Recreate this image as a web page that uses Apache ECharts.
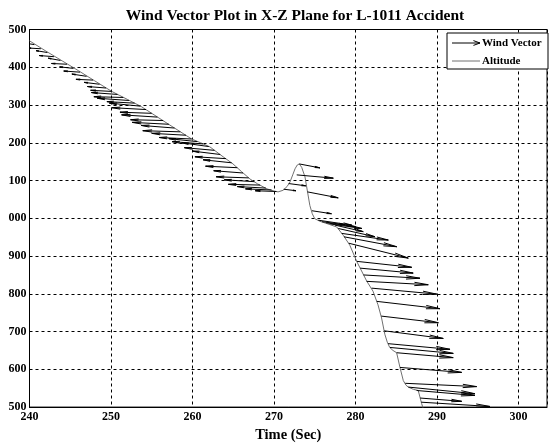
<!DOCTYPE html>
<html>
<head>
<meta charset="utf-8">
<script src="https://cdn.jsdelivr.net/npm/echarts@6/dist/echarts.min.js"></script>
<style>
  html, body { margin: 0; padding: 0; background: #fff; }
  #chart { width: 549px; height: 448px; }
</style>
</head>
<body>
<div id="chart"></div>
<script>
// Altitude trace (time in seconds, altitude in feet)
const altTime = [240, 242, 244, 246, 248, 250.1, 251, 252, 253.7, 255, 257, 259.9, 261, 262.15, 263.5,
  264.97, 266, 267.06, 268, 269.14, 270, 270.5, 271.1, 271.6, 271.96, 272.3, 272.58, 272.85, 273.1,
  273.4, 273.8, 274.1, 274.4, 274.7, 275.0, 275.64, 276.5, 277.7, 278.5, 279.3, 280.15, 281.37,
  282.15, 282.76, 283.2, 283.6, 283.9, 284.2, 284.6, 285.05, 285.46, 285.87, 286.2, 286.48, 287.1,
  287.7, 288.12, 288.4];
const altFeet = [1470, 1443, 1417, 1391, 1364, 1336, 1326, 1315, 1296, 1278, 1250, 1210, 1200, 1189, 1167,
  1144, 1124, 1104, 1091, 1078, 1072, 1070, 1074, 1084, 1096, 1115, 1131, 1141, 1144,
  1135, 1110, 1072, 1034, 1012, 999, 992, 986, 977, 955, 929, 886, 834,
  807, 771, 736, 693, 672, 658, 650, 644, 605, 570, 558, 553, 547,
  544, 509, 490];

// Wind vectors: base point on the flight path and components (u in seconds of track, w in feet)
const vecTime = [240.6, 241.4, 242.2, 243.0, 243.8, 244.6, 245.4, 246.2, 247.0, 247.8, 248.6, 249.4,
  250.1, 250.8, 251.5, 252.2, 252.9, 253.6, 254.3, 255.0, 255.7, 256.4, 257.1, 257.8, 258.5, 259.2,
  259.9, 260.6, 261.3, 262.0, 262.7, 263.4, 264.1, 264.8, 265.5, 266.2, 266.9, 267.6, 268.3, 269.0,
  269.7, 270.3,
  271.2, 271.8, 272.79, 273.1, 274.1, 274.66, 275.44, 275.9, 276.4, 276.9, 277.48, 277.89, 278.31,
  278.59, 279.18, 280.16, 280.58, 280.98, 281.37, 281.99, 282.61, 283.17, 283.53, 284.0, 284.23,
  285.05, 285.46, 286.11, 286.48, 287.5, 287.94, 288.07];
const vecAlt = [1460, 1449, 1439, 1428, 1418, 1408, 1397, 1387, 1376, 1366, 1355, 1345,
  1336, 1328, 1320, 1312, 1305, 1297, 1288, 1278, 1268, 1259, 1249, 1239, 1229, 1220,
  1210, 1203, 1197, 1190, 1180, 1169, 1158, 1147, 1134, 1120, 1107, 1097, 1088, 1080,
  1075, 1071,
  1077, 1092, 1115, 1144, 1070, 1020, 995, 991, 988, 985, 982, 973, 960,
  951, 934, 886, 868, 850, 833, 815, 780, 741, 702, 668, 658,
  644, 605, 563, 553, 544, 524, 513];
const vecU = [-1.2, -1.6, -1.4, -1.8, -1.5, -1.9, -1.7, -2.0, -1.8, -2.1, -1.9, -2.3,
  -2.6, -3.2, -3.6, -3.9, -3.4, -3.8, -4.2, -3.9, -4.4, -4.0, -4.5, -4.1, -4.6, -4.2,
  -4.0, -3.5, -3.8, -3.3, -3.7, -3.4, -3.8, -3.5, -3.9, -3.6, -4.0, -3.7, -3.9, -3.5,
  -3.2, -2.6,
  1.5, 2.1, 4.49, 2.54, 3.78, 2.39, 4.1, 2.8, 3.6, 3.9, 3.47, 4.5, 5.72,
  6.47, 7.3, 6.74, 6.5, 6.93, 7.56, 7.98, 7.75, 7.0, 7.24, 7.6, 7.77,
  6.94, 7.57, 8.76, 8.18, 7.15, 5.09, 8.43];
const vecW = [4, 2, 5, 3, 6, 2, 4, 3, 6, 2, 5, 4,
  3, 5, 2, 6, 4, 8, 5, 3, 6, 2, 5, 7, 3, 5,
  4, 8, 6, 10, 7, 9, 5, 8, 4, 6, 3, 5, 2, 4,
  3, 2,
  -4, -6, -8.7, -10.5, -15.8, -7.9, -13, -8, -10, -12, -17.3, -21.8, -17.6,
  -26.3, -39.4, -15.8, -13.1, -8.7, -8.9, -15.8, -19.4, -17.6, -20.2, -15, -15.8,
  -13, -13.1, -8.7, -17.6, -13.1, -8.7, -11.3];

const xTicks = { min: 240, max: 303.5, step: 10 };
const yTicks = { min: 500, max: 1500, step: 100 };

const titleText = 'Wind Vector Plot in X-Z Plane for L-1011 Accident';
const xName = 'Time (Sec)';
const legendNames = ['Wind Vector', 'Altitude'];

const serif = 'Liberation Serif, Times New Roman, serif';
const altColor = '#707070';

const altData = altTime.map((t, i) => [t, altFeet[i]]);
const vecData = vecTime.map((t, i) => [t, vecAlt[i], vecU[i], vecW[i]]);

function arrowHead(tip, ang, h, spread) {
  return [
    [tip[0] - h * Math.cos(ang - spread), tip[1] - h * Math.sin(ang - spread)],
    tip,
    [tip[0] - h * Math.cos(ang + spread), tip[1] - h * Math.sin(ang + spread)]
  ];
}

// Each vector: a shaft from the flight-path point plus a slim arrowhead at the tip
function renderVector(params, api) {
  const t = api.value(0), a = api.value(1), u = api.value(2), w = api.value(3);
  const p0 = api.coord([t, a]);
  const p1 = api.coord([t + u, a + w]);
  const dx = p1[0] - p0[0], dy = p1[1] - p0[1];
  const len = Math.hypot(dx, dy);
  const ang = Math.atan2(dy, dx);
  const head = Math.min(len * 0.25, 14);
  return {
    type: 'group',
    children: [
      { type: 'line', shape: { x1: p0[0], y1: p0[1], x2: p1[0], y2: p1[1] },
        style: { stroke: '#000', lineWidth: 1 } },
      { type: 'polyline', shape: { points: arrowHead(p1, ang, head, 0.12) },
        style: { stroke: '#000', lineWidth: 1, fill: null } }
    ]
  };
}

const chart = echarts.init(document.getElementById('chart'), null, { renderer: 'canvas' });

const legendX = 447, legendY = 33;
chart.setOption({
  animation: false,
  backgroundColor: '#fff',
  title: {
    text: titleText,
    left: 290, top: 3, textAlign: 'center',
    textStyle: { fontFamily: serif, fontWeight: 'bold', fontSize: 15.5, color: '#000' }
  },
  grid: {
    left: 29.5, right: 2, top: 29.5, bottom: 38,
    show: true, borderColor: '#000', borderWidth: 1, backgroundColor: '#fff'
  },
  xAxis: {
    type: 'value', min: xTicks.min, max: xTicks.max, interval: xTicks.step,
    name: xName, nameLocation: 'middle', nameGap: 19,
    nameTextStyle: { fontFamily: serif, fontWeight: 'bold', fontSize: 14.5, color: '#000' },
    axisLine: { show: true, lineStyle: { color: '#000', width: 1 } },
    axisTick: { show: false },
    axisLabel: {
      showMaxLabel: false, margin: 4,
      fontFamily: serif, fontWeight: 'bold', fontSize: 12, color: '#000',
      formatter: v => (v % xTicks.step === 0 ? String(v) : '')
    },
    splitLine: { show: true, lineStyle: { color: '#000', width: 1, type: [3, 3] } }
  },
  yAxis: {
    type: 'value', min: yTicks.min, max: yTicks.max, interval: yTicks.step,
    axisLine: { show: true, lineStyle: { color: '#000', width: 1 } },
    axisTick: { show: false },
    axisLabel: {
      margin: 3,
      fontFamily: serif, fontWeight: 'bold', fontSize: 12, color: '#000',
      formatter: v => String(v).slice(-3)
    },
    splitLine: { show: true, lineStyle: { color: '#000', width: 1, type: [3, 3] } }
  },
  series: [
    {
      name: legendNames[0], type: 'custom', clip: true,
      renderItem: renderVector,
      dimensions: ['t', 'alt', 'u', 'w'],
      encode: { x: 0, y: 1 },
      data: vecData, z: 3
    },
    {
      name: legendNames[1], type: 'line', data: altData,
      showSymbol: false, clip: true,
      lineStyle: { color: altColor, width: 1 }, z: 2
    }
  ],
  graphic: [
    { type: 'rect', shape: { x: legendX, y: legendY, width: 101, height: 36 },
      style: { fill: '#fff', stroke: '#000', lineWidth: 1 }, z: 10 },
    { type: 'line', shape: { x1: legendX + 5, y1: legendY + 10, x2: legendX + 33, y2: legendY + 10 },
      style: { stroke: '#000', lineWidth: 1 }, z: 11 },
    { type: 'polyline', shape: { points: arrowHead([legendX + 33, legendY + 10], 0, 7, 0.35) },
      style: { stroke: '#000', lineWidth: 1, fill: null }, z: 11 },
    { type: 'text', x: legendX + 35, y: legendY + 10, z: 11,
      style: { text: legendNames[0], fontFamily: serif, fontWeight: 'bold', fontSize: 11,
               fill: '#000', verticalAlign: 'middle', align: 'left' } },
    { type: 'line', shape: { x1: legendX + 5, y1: legendY + 28, x2: legendX + 33, y2: legendY + 28 },
      style: { stroke: altColor, lineWidth: 1 }, z: 11 },
    { type: 'text', x: legendX + 35, y: legendY + 28, z: 11,
      style: { text: legendNames[1], fontFamily: serif, fontWeight: 'bold', fontSize: 11,
               fill: '#000', verticalAlign: 'middle', align: 'left' } }
  ]
});
</script>
</body>
</html>
